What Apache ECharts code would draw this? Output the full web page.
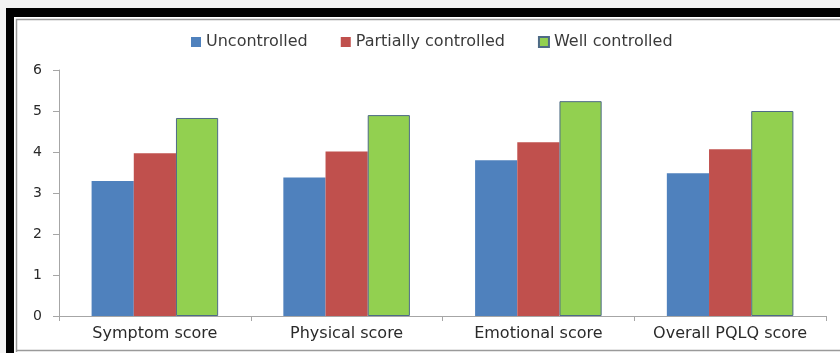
<!DOCTYPE html>
<html>
<head>
<meta charset="utf-8">
<style>
  html, body { margin: 0; padding: 0; background: #ffffff; }
  #chart { width: 840px; height: 353px; }
</style>
<script src="https://cdn.jsdelivr.net/npm/echarts@6/dist/echarts.min.js"></script>
</head>
<body>
<div id="chart"></div>
<script>
// PQLQ scores by asthma control level
const categories = ['Symptom score', 'Physical score', 'Emotional score', 'Overall PQLQ score'];
const seriesNames = ['Uncontrolled', 'Partially controlled', 'Well controlled'];
const uncontrolled = [3.29, 3.38, 3.80, 3.48];
const partiallyControlled = [3.97, 4.01, 4.24, 4.07];
const wellControlled = [4.83, 4.90, 5.24, 5.00];
const yTicks = { min: 0, max: 6, interval: 1 };

const chart = echarts.init(document.getElementById('chart'), null, { renderer: 'canvas' });

const labelFont = '"DejaVu Sans", Verdana, sans-serif';

chart.setOption({
  animation: false,
  backgroundColor: '#ffffff',
  graphic: [
    // outer frame: pale strip, black band at top and left, thin grey inner rule
    { type: 'rect', shape: { x: 0, y: 0, width: 840, height: 8 }, style: { fill: '#f3f3f3' }, silent: true },
    { type: 'rect', shape: { x: 0, y: 0, width: 6, height: 353 }, style: { fill: '#f3f3f3' }, silent: true },
    { type: 'rect', shape: { x: 6, y: 8, width: 834, height: 9 }, style: { fill: '#000000' }, silent: true },
    { type: 'rect', shape: { x: 6, y: 8, width: 8, height: 345 }, style: { fill: '#000000' }, silent: true },
    { type: 'polyline', shape: { points: [[16.5, 352], [16.5, 19.5], [840, 19.5]] }, style: { stroke: '#9a9a9a', lineWidth: 1.5, fill: null }, silent: true },
    { type: 'line', shape: { x1: 16, y1: 350.5, x2: 840, y2: 350.5 }, style: { stroke: '#9a9a9a', lineWidth: 1.5 }, silent: true }
  ],
  legend: {
    top: 29,
    left: 186,
    icon: 'rect',
    itemWidth: 10,
    itemHeight: 10,
    itemGap: 33,
    textStyle: { fontFamily: labelFont, fontSize: 16, color: '#3a3a3a', padding: [0, 0, 0, 0] },
    data: seriesNames
  },
  grid: { left: 59, right: 14, top: 70, bottom: 37, containLabel: false },
  xAxis: {
    type: 'category',
    data: categories,
    axisLine: { lineStyle: { color: '#a6a6a6', width: 1 } },
    axisTick: { show: true, interval: 0, length: 5, lineStyle: { color: '#a6a6a6' } },
    axisLabel: { interval: 0, fontFamily: labelFont, fontSize: 16, color: '#2a2a2a', margin: 10 }
  },
  yAxis: {
    type: 'value',
    min: yTicks.min,
    max: yTicks.max,
    interval: yTicks.interval,
    axisLine: { show: true, lineStyle: { color: '#a6a6a6', width: 1 } },
    axisTick: { show: true, length: 6, lineStyle: { color: '#a6a6a6' } },
    splitLine: { show: false },
    axisLabel: { fontFamily: labelFont, fontSize: 14, color: '#2a2a2a', margin: 17 }
  },
  series: [
    {
      name: seriesNames[0], type: 'bar', data: uncontrolled,
      barGap: '0%', barCategoryGap: '34%',
      itemStyle: { color: '#4f81bd' }
    },
    {
      name: seriesNames[1], type: 'bar', data: partiallyControlled,
      barGap: '0%', barCategoryGap: '34%',
      itemStyle: { color: '#c0504d' }
    },
    {
      name: seriesNames[2], type: 'bar', data: wellControlled,
      barGap: '0%', barCategoryGap: '34%',
      itemStyle: { color: '#92d050', borderColor: '#4e6a86', borderWidth: 1 }
    }
  ]
});
</script>
</body>
</html>
